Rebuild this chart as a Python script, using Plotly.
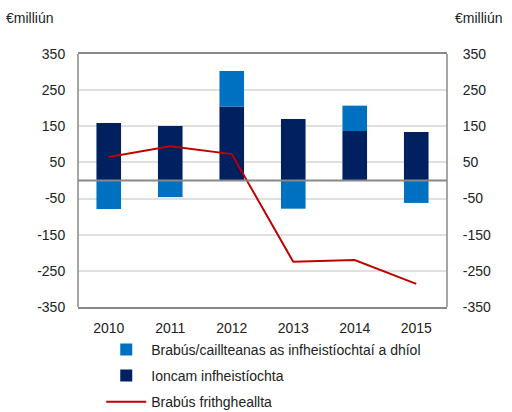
import plotly.graph_objects as go

years = ["2010", "2011", "2012", "2013", "2014", "2015"]
gains_losses = [-79, -46, 98, -78, 70, -62]
investment_income = [159, 151, 205, 170, 137, 134]
underwriting = [65, 95, 73, -225, -220, -286]
tick_vals = [350, 250, 150, 50, -50, -150, -250, -350]

FS = 14

fig = go.Figure()
fig.add_trace(go.Bar(x=years, y=investment_income, name="Ioncam infheistíochta",
                     marker=dict(color="#002060", line=dict(width=0)), legendrank=2,
                     legendgroup="b", width=0.4))
fig.add_trace(go.Bar(x=years, y=gains_losses, name="Brabús/caillteanas as infheistíochtaí a dhíol",
                     marker=dict(color="#0070C0", line=dict(width=0)), legendrank=1,
                     legendgroup="a", width=0.4))
fig.add_trace(go.Scatter(x=years, y=underwriting, name="Brabús frithghealllta".replace("lll", "ll"),
                         mode="lines", line=dict(color="#C00000", width=2), legendrank=3,
                         legendgroup="c"))
fig.add_trace(go.Scatter(x=years, y=underwriting, yaxis="y2", showlegend=False,
                         mode="lines", line=dict(width=0), hoverinfo="skip"))

axis_common = dict(range=[-350, 350], tickvals=tick_vals, ticktext=[str(v) for v in tick_vals],
                   tickfont=dict(family="Liberation Sans, Arial", size=FS, color="#222"),
                   showline=False, zeroline=False, ticks="outside",
                   tickcolor="rgba(0,0,0,0)", automargin=False)
fig.update_layout(
    width=512, height=412,
    margin=dict(l=78, r=65, t=54, b=105, autoexpand=False),
    barmode="relative",
    plot_bgcolor="white", paper_bgcolor="white",
    font=dict(family="Liberation Sans, Arial", size=FS, color="#222"),
    xaxis=dict(showgrid=False, showline=True, mirror=True, linecolor="#888888", linewidth=1.5,
               tickfont=dict(size=FS), ticks="outside", ticklen=7, tickcolor="rgba(0,0,0,0)",
               automargin=False, tickangle=0),
    yaxis=dict(**axis_common, ticklen=9, showgrid=True, gridcolor="#E0E0E0", gridwidth=1.5),
    yaxis2=dict(**axis_common, ticklen=12, overlaying="y", side="right", showgrid=False),
    legend=dict(x=0.063, y=-0.106, xanchor="left", yanchor="top", orientation="v",
                font=dict(size=FS), tracegroupgap=5, itemwidth=40,
                bgcolor="rgba(0,0,0,0)"),
    showlegend=True,
    shapes=[
        dict(type="line", xref="paper", yref="y", x0=0, x1=1, y0=0, y1=0,
             line=dict(color="#888888", width=2)),
        dict(type="line", xref="paper", yref="paper", x0=0, x1=0, y0=0, y1=1,
             line=dict(color="#888888", width=1.5)),
        dict(type="line", xref="paper", yref="paper", x0=1, x1=1, y0=0, y1=1,
             line=dict(color="#888888", width=1.5)),
    ],
    annotations=[
        dict(text="€milliún", xref="paper", yref="paper", x=-0.2, y=1.142, xanchor="left",
             yanchor="middle", showarrow=False, font=dict(size=FS)),
        dict(text="€milliún", xref="paper", yref="paper", x=1.017, y=1.142, xanchor="left",
             yanchor="middle", showarrow=False, font=dict(size=FS)),
    ],
)
fig.write_html("out.html", config={"displayModeBar": False},
               post_script="document.body.style.margin='0';document.body.style.padding='0';")
